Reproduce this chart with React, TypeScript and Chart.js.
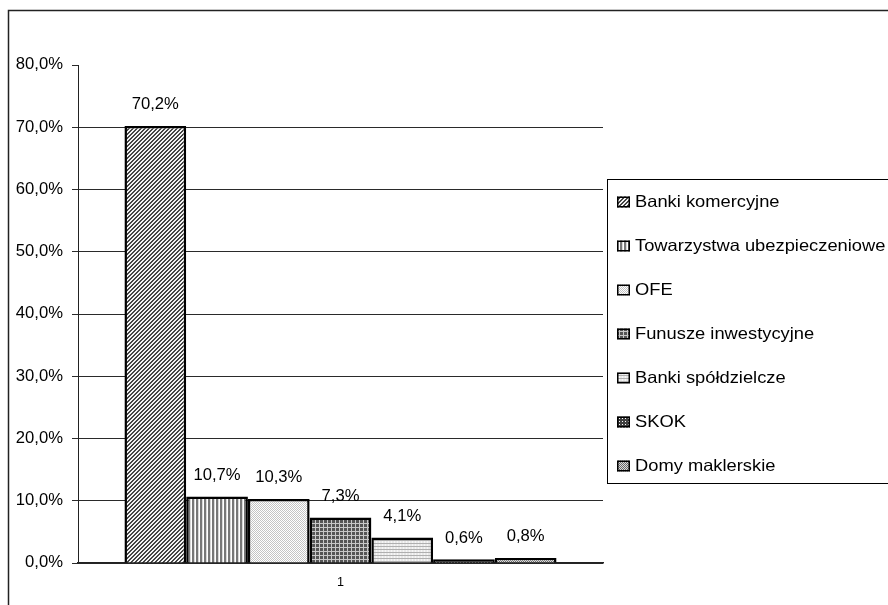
import { useEffect, useRef } from "react";
import { Chart, registerables } from "chart.js";

Chart.register(...registerables);

const categories = ["1"];
const seriesNames = [
  "Banki komercyjne",
  "Towarzystwa ubezpieczeniowe",
  "OFE",
  "Funusze inwestycyjne",
  "Banki spółdzielcze",
  "SKOK",
  "Domy maklerskie",
];
const seriesValues = [70.2, 10.7, 10.3, 7.3, 4.1, 0.6, 0.8];
const yTicks = [0, 10, 20, 30, 40, 50, 60, 70, 80];

const FONT = '"Liberation Sans", Arial, sans-serif';
const fmt = (v: number) => v.toFixed(1).replace(".", ",") + "%";

type Cell = (x: number, y: number) => string;

// Monochrome fill patterns, one per series
const patternCells: [number, Cell][] = [
  [4, (x, y) => ((x + y) % 4 < 2 ? "#444444" : "#f4f4f4")],
  [4, (x) => (x % 4 < 2 ? "#777777" : x % 4 === 2 ? "#d8d8d8" : "#ffffff")],
  [2, (x, y) => ((x + y) % 2 === 0 ? "#c4c4c4" : "#ffffff")],
  [4, (x, y) => (x % 4 === 3 || y % 4 === 3 ? "#c8c8c8" : "#555555")],
  [3, (x, y) => (y % 3 === 0 ? "#b0b0b0" : (x % 2 === 0 ? "#e8e8e8" : "#f6f6f6"))],
  [3, (x, y) => (x % 3 === 1 && y % 3 === 1 ? "#ffffff" : "#404040")],
  [2, (x, y) => ((x + y) % 2 === 0 ? "#6a6a6a" : "#dcdcdc")],
];

function makePattern(size: number, cell: Cell): CanvasPattern | string {
  const c = document.createElement("canvas");
  c.width = size;
  c.height = size;
  const g = c.getContext("2d");
  if (!g) return "#888";
  for (let y = 0; y < size; y++) {
    for (let x = 0; x < size; x++) {
      g.fillStyle = cell(x, y);
      g.fillRect(x, y, 1, 1);
    }
  }
  return g.createPattern(c, "repeat") || "#888";
}

function drawText(
  ctx: CanvasRenderingContext2D,
  text: string,
  x: number,
  y: number,
  align: CanvasTextAlign,
  size: number,
  sx: number
) {
  ctx.save();
  ctx.translate(x, y);
  ctx.scale(sx, 1);
  ctx.font = `${size}px ${FONT}`;
  ctx.fillStyle = "#000";
  ctx.textAlign = align;
  ctx.textBaseline = "middle";
  ctx.fillText(text, 0, 0);
  ctx.restore();
}

export default function App() {
  const ref = useRef<HTMLCanvasElement | null>(null);

  useEffect(() => {
    const canvas = ref.current;
    if (!canvas) return;
    const patterns = patternCells.map(([s, c]) => makePattern(s, c));

    const framePlugin = {
      id: "frame",
      beforeDraw(chart: any) {
        const ctx = chart.ctx as CanvasRenderingContext2D;
        ctx.save();
        ctx.fillStyle = "#fff";
        ctx.fillRect(0, 0, chart.width, chart.height);
        ctx.strokeStyle = "#222";
        ctx.lineWidth = 1.5;
        ctx.strokeRect(8.5, 10.5, 1000, 1000);
        ctx.restore();
      },
    };

    const labelPlugin = {
      id: "labels",
      afterDraw(chart: any) {
        const ctx = chart.ctx as CanvasRenderingContext2D;
        const ys = chart.scales.y;
        const xs = chart.scales.x;

        yTicks.forEach((v) => {
          drawText(ctx, fmt(v), 63, ys.getPixelForValue(v), "right", 16, 1.04);
        });

        categories.forEach((c, i) => {
          drawText(ctx, c, xs.getPixelForValue(i), 583, "center", 12, 1.05);
        });

        seriesValues.forEach((v, i) => {
          const el = chart.getDatasetMeta(i).data[0];
          if (!el) return;
          drawText(ctx, fmt(v), el.x, ys.getPixelForValue(v) - 21, "center", 16, 1.04);
        });

        // legend box
        ctx.save();
        ctx.strokeStyle = "#000";
        ctx.lineWidth = 1;
        ctx.strokeRect(607.5, 179.5, 400, 304);
        ctx.restore();

        seriesNames.forEach((name, i) => {
          const cy = 202 + i * 44;
          ctx.save();
          ctx.fillStyle = patterns[i] as any;
          ctx.fillRect(617, cy - 5.5, 13, 11);
          ctx.strokeStyle = "#000";
          ctx.lineWidth = 1.5;
          ctx.strokeRect(617.75, cy - 4.75, 11.5, 9.5);
          ctx.restore();
          drawText(ctx, name, 635, cy, "left", 16.5, 1.11);
        });
      },
    };

    const chart = new Chart(canvas, {
      type: "bar",
      data: {
        labels: categories,
        datasets: seriesNames.map((name, i) => ({
          label: name,
          data: [seriesValues[i]],
          backgroundColor: patterns[i] as any,
          borderColor: "#000",
          borderWidth: 2.5,
          categoryPercentage: 0.823,
          barPercentage: 1,
        })),
      },
      options: {
        responsive: false,
        animation: false,
        layout: { padding: { left: 0, top: 65, right: 285, bottom: 0 } },
        plugins: { legend: { display: false }, tooltip: { enabled: false } },
        scales: {
          x: {
            grid: { display: false },
            ticks: { display: false },
            border: { display: true, color: "#222", width: 1.5 },
            afterFit: (s: any) => {
              s.height = 42;
            },
          },
          y: {
            min: 0,
            max: 80,
            ticks: { display: false, stepSize: 10 },
            grid: {
              color: (c: any) =>
                c.tick && c.tick.value === 80 ? "rgba(0,0,0,0)" : "#2a2a2a",
              tickColor: "#2a2a2a",
              tickLength: 6,
              drawTicks: true,
              lineWidth: 1,
            },
            border: { display: true, color: "#222", width: 1 },
            afterFit: (s: any) => {
              s.width = 78;
            },
          },
        },
      } as any,
      plugins: [framePlugin, labelPlugin],
    });

    return () => chart.destroy();
  }, []);

  return (
    <div style={{ position: "fixed", left: 0, top: 0, width: 888, height: 605 }}>
      <canvas ref={ref} width={888} height={605} style={{ display: "block" }} />
    </div>
  );
}
